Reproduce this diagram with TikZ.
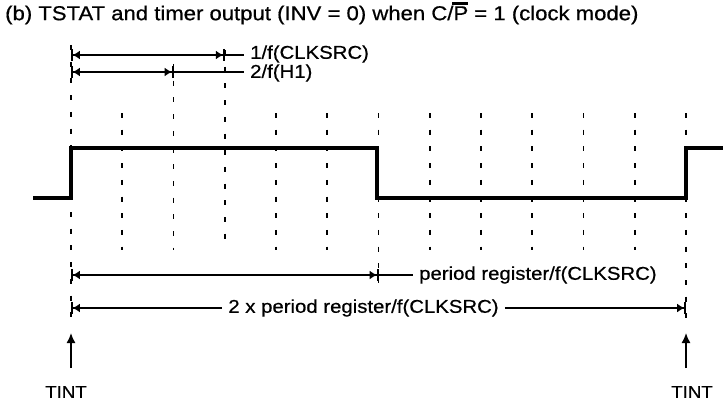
\documentclass[tikz,border=0pt]{standalone}
\usepackage{fontspec}
\setmainfont{Liberation Sans}[FakeStretch=1.1, FakeBold=0.6]
\usetikzlibrary{arrows.meta}
\newcommand\ovlP{\rlap{\kern-1pt\rule[15.5pt]{16pt}{3pt}}P}
\tikzset{
  wave/.style={line width=4pt, line join=miter},
  gridline/.style={line width=1.6pt, dash pattern=on 5pt off 11.7pt},
  dimtips/.style={line width=1.5pt,
    arrows={Bar[width=12pt,line width=1.8pt]Latex[length=7pt,width=9pt]-Latex[length=7pt,width=9pt]Bar[width=12pt,line width=1.8pt]}},
  starttip/.style={line width=1.5pt,
    arrows={Bar[width=12pt,line width=1.8pt]Latex[length=7pt,width=9pt]-}},
  endtip/.style={line width=1.5pt,
    arrows={-Latex[length=7pt,width=9pt]Bar[width=12pt,line width=1.8pt]}},
  extline/.style={line width=1.5pt},
  lbl/.style={font=\fontsize{18.5}{22}\selectfont, inner xsep=6pt, inner ysep=0pt},
  titletext/.style={font=\fontsize{20.1}{22}\selectfont, inner sep=0pt},
  tinttext/.style={font=\fontsize{17}{20}\selectfont, inner sep=0pt},
  tintarrow/.style={line width=1.5pt, -{Latex[length=10pt,width=9pt]}},
}
\begin{document}
\begin{tikzpicture}[x=1pt,y=-1pt]
\useasboundingbox (0,0) rectangle (723,404);
\node[titletext, anchor=west] (title) at (5,13) {(b) TSTAT and timer output (INV = 0) when C/\ovlP{} = 1 (clock mode)};
% grid lines
\foreach \i in {1,4,5,7,8,9,10,11}
  \draw[gridline] ({71+51.25*\i},113) -- ({71+51.25*\i},250);
\draw[gridline] (71,45) -- (71,322);
\draw[gridline] (173.5,64) -- (173.5,250);
\draw[gridline] (224.75,50) -- (224.75,250);
\draw[gridline] (378.5,113) -- (378.5,283);
\draw[gridline] (686,113) -- (686,318);
% waveform
\draw[wave] (33,198) -- (71,198) -- (71,148) -- (377,148) -- (377,198) -- (686,198) -- (686,148) -- (723,148);
% 1/f(CLKSRC)
\coordinate (a1s) at (71,55);
\coordinate (a1e) at (224.75,55);
\node[lbl, anchor=west] (l1) at (244,54) {1/f(CLKSRC)};
\draw[dimtips] (a1s) -- (a1e);
\draw[extline] (a1e) -- (l1.west |- a1e);
% 2/f(H1)
\coordinate (a2s) at (71,72);
\coordinate (a2e) at (173.5,72);
\node[lbl, anchor=west] (l2) at (244,73) {2/f(H1)};
\draw[dimtips] (a2s) -- (a2e);
\draw[extline] (a2e) -- (l2.west |- a2e);
% period register
\coordinate (a3s) at (71,275);
\coordinate (a3e) at (378.5,275);
\node[lbl, anchor=west] (l3) at (413,275) {period register/f(CLKSRC)};
\draw[dimtips] (a3s) -- (a3e);
\draw[extline] (a3e) -- (l3.west);
% 2 x period register
\coordinate (a4s) at (71,308);
\coordinate (a4e) at (686,308);
\node[lbl] (l4) at (363.5,308) {2 x period register/f(CLKSRC)};
\draw[starttip] (a4s) -- (l4.west);
\draw[endtip] (l4.east) -- (a4e);
% TINT
\node[tinttext] (t1) at (66,392) {TINT};
\node[tinttext] (t2) at (692,392) {TINT};
\coordinate (t1b) at (71,368);
\coordinate (t1t) at (71,333);
\coordinate (t2b) at (686,368);
\coordinate (t2t) at (686,333);
\draw[tintarrow] (t1b) -- (t1t);
\draw[tintarrow] (t2b) -- (t2t);
\end{tikzpicture}
\end{document}
